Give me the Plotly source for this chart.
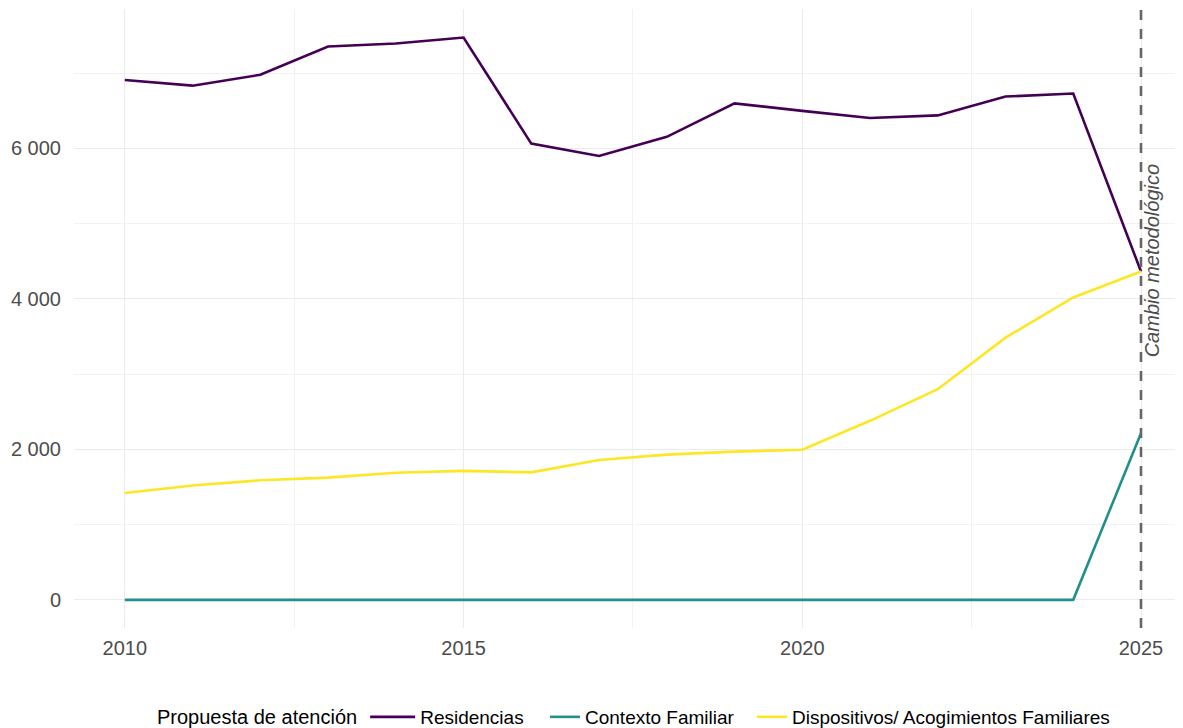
import plotly.graph_objects as go

years = list(range(2010, 2026))
residencias = [6910, 6835, 6980, 7355, 7395, 7475, 6065, 5900, 6155, 6600, 6500, 6405, 6440, 6690, 6730, 4365]
contexto_familiar = [0, 0, 0, 0, 0, 0, 0, 0, 0, 0, 0, 0, 0, 0, 0, 2215]
dispositivos = [1420, 1520, 1590, 1625, 1690, 1715, 1695, 1860, 1930, 1970, 1995, 2380, 2800, 3485, 4020, 4365]

series_names = ["Residencias", "Contexto Familiar", "Dispositivos/ Acogimientos Familiares"]
series_values = [residencias, contexto_familiar, dispositivos]
series_colors = ["#440154", "#21908C", "#FDE725"]
series_legends = ["legend", "legend2", "legend3"]

x_ticks = [2010, 2015, 2020, 2025]
y_ticks = [0, 2000, 4000, 6000]
cambio_year = 2025
annotation_text = "Cambio metodológico"
annotation_y = 4500
legend_title = "Propuesta de atención"

W, H = 1175, 720

fig = go.Figure()
for name, vals, col, lg in zip(series_names, series_values, series_colors, series_legends):
    fig.add_trace(go.Scatter(x=years, y=vals, mode="lines", name=name, legend=lg,
                             line=dict(color=col, width=2.6)))

fig.add_shape(type="line", xref="x", yref="paper", x0=cambio_year, x1=cambio_year,
              y0=0, y1=1, line=dict(color="#666666", width=2.6, dash="10px,9px"))

fig.add_annotation(x=cambio_year, y=annotation_y, xref="x", yref="y",
                   text=annotation_text, textangle=-90, showarrow=False,
                   xanchor="center", yanchor="middle", xshift=11,
                   font=dict(family="Liberation Sans, Arial", size=20, color="#4D4D4D", style="italic"))

leg_y = 1 - 709 / H
common_leg = dict(orientation="h", xref="container", yref="container", xanchor="left",
                  yanchor="middle", y=leg_y, font=dict(size=19), itemwidth=30,
                  bgcolor="rgba(0,0,0,0)")

fig.update_layout(
    width=W, height=H,
    margin=dict(l=66, r=0, t=1, b=100),
    paper_bgcolor="white", plot_bgcolor="white",
    font=dict(family="Liberation Sans, Arial", size=20, color="black"),
    separators=". ",
    showlegend=True,
    legend=dict(common_leg, x=147 / W, itemwidth=45,
                title=dict(text=legend_title, font=dict(size=20))),
    legend2=dict(common_leg, x=537 / W),
    legend3=dict(common_leg, x=744 / W),
    xaxis=dict(range=[2009.25, 2025.62], tickvals=x_ticks, showgrid=True,
               gridcolor="#EBEBEB", gridwidth=1.2, zeroline=False, showline=False,
               ticks="", tickfont=dict(size=20, color="#4D4D4D"), ticklabelstandoff=6,
               minor=dict(dtick=2.5, tick0=2010, showgrid=True, gridcolor="#F2F2F2", gridwidth=1)),
    yaxis=dict(range=[-374, 7854], tickvals=y_ticks, tickformat=",", showgrid=True,
               gridcolor="#EBEBEB", gridwidth=1.2, zeroline=False, showline=False,
               ticks="", tickfont=dict(size=20, color="#4D4D4D"), ticklabelstandoff=12,
               minor=dict(dtick=1000, tick0=0, showgrid=True, gridcolor="#F2F2F2", gridwidth=1)),
)

fig.write_html("out.html")
